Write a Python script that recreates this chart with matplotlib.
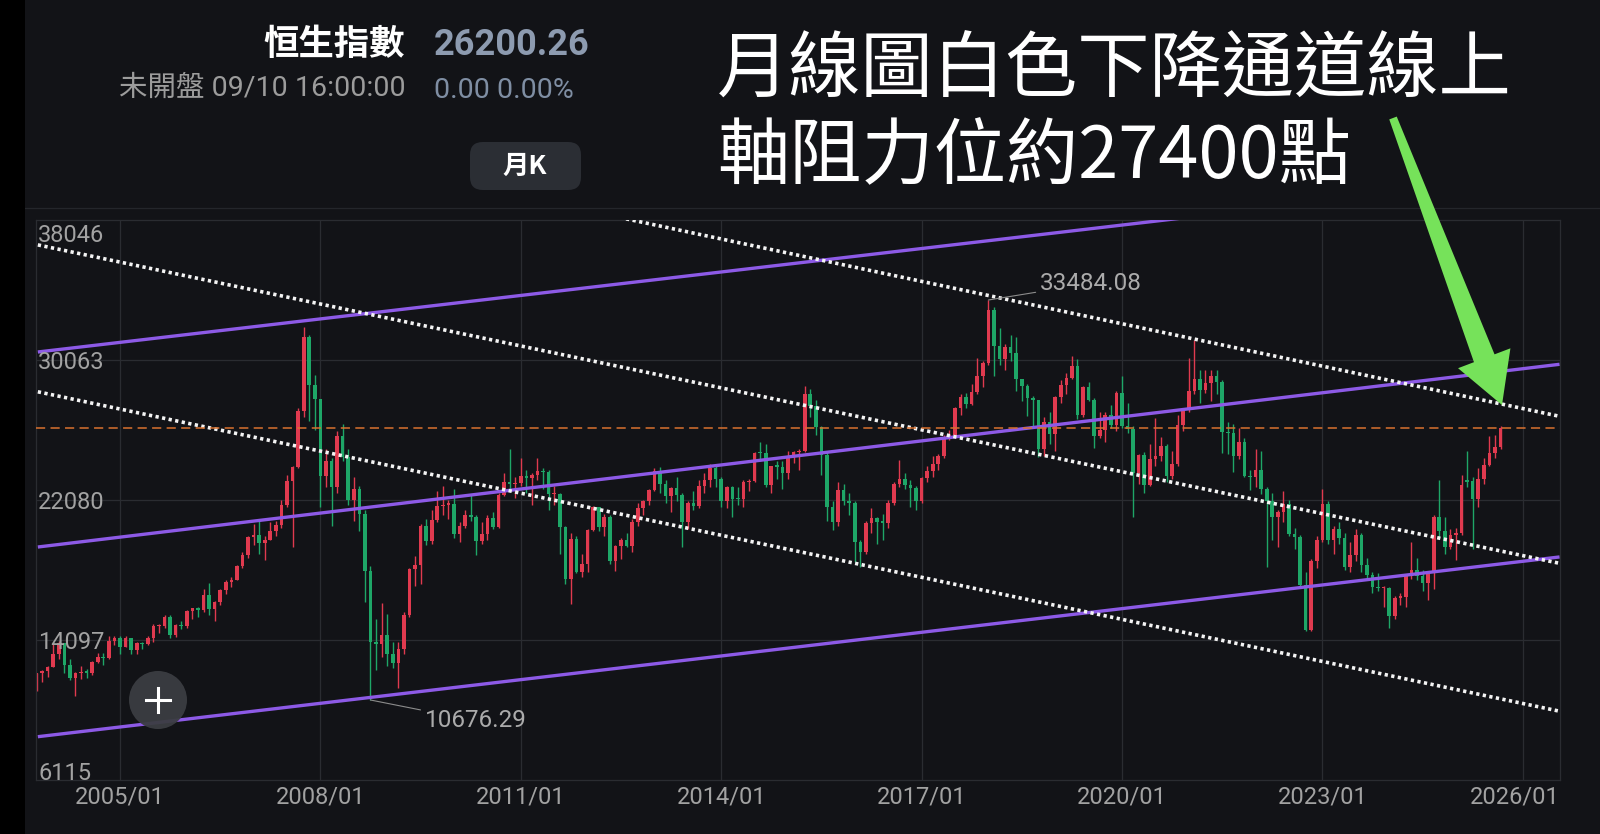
import numpy as np
import matplotlib
matplotlib.use("Agg")
import matplotlib.pyplot as plt
from matplotlib.patches import Rectangle, FancyBboxPatch, Circle, Polygon
from matplotlib.lines import Line2D

plt.rcParams['font.family'] = ['Roboto', 'Noto Sans CJK TC', 'DejaVu Sans']

# Hang Seng Index, monthly bars from 2003/10 to 2025/09
start_year = 2003
start_month = 10
opens = [
    11230, 12190, 12317,
    12576, 13289, 13918, 12682, 11942, 12198, 12286, 12238, 12850, 13120, 13054, 14060,
    14230, 13721, 14195, 13516, 13908, 13867, 14201, 14880, 14903, 15429, 14386, 14937,
    14876, 15753, 15918, 15805, 16661, 15857, 16267, 16971, 17392, 17543, 18324, 18960,
    19965, 20107, 19652, 19801, 20319, 20635, 21773, 23185, 23984, 27143, 31352, 28643,
    27813, 23456, 24332, 22849, 25755, 24533, 22102, 22731, 21262, 18016, 13969, 13888,
    14387, 13278, 12812, 13576, 15521, 18171, 18379, 20573, 19724, 20955, 21753, 21822,
    21873, 20122, 20609, 21239, 21108, 19765, 20129, 21030, 20537, 22358, 23096, 23008,
    23035, 23447, 23338, 23528, 23721, 23684, 22398, 22440, 20535, 17592, 19864, 17989,
    18434, 20390, 21680, 20556, 21094, 18630, 19441, 19797, 19483, 20840, 21642, 22030,
    22657, 23730, 23020, 22300, 22737, 22392, 20803, 21883, 21731, 22860, 23206, 23881,
    23306, 22035, 22837, 22151, 22134, 23082, 23191, 24757, 24742, 22933, 23998, 23987,
    23605, 24507, 24823, 24901, 28133, 27424, 26250, 24636, 21670, 20846, 22640, 21996,
    21914, 19683, 19112, 20777, 21067, 20815, 20794, 21891, 22977, 23297, 22935, 22790,
    22001, 23361, 23741, 24112, 24615, 25661, 25765, 27324, 27970, 27554, 28246, 29177,
    29919, 32887, 30845, 30093, 30808, 30469, 28955, 28583, 27889, 27789, 24980, 26507,
    25846, 27942, 28633, 29051, 29699, 26901, 28543, 27778, 25725, 26092, 26907, 26346,
    28190, 26313, 26130, 23603, 24644, 22961, 24427, 24595, 25177, 23459, 24107, 26341,
    27231, 28284, 28980, 28378, 28725, 29152, 28828, 25961, 25879, 24576, 25377, 23475,
    23398, 23802, 22713, 21997, 21089, 21415, 21860, 20157, 19954, 17223, 14687, 18597,
    19781, 21842, 19786, 20400, 19895, 18234, 18916, 20079, 18382, 17810, 17112, 17043,
    17047, 15485, 16511, 16541, 17763, 18080, 17719, 17345, 17989, 21134, 20317, 19424,
    20060, 20225, 23200, 23150, 22119, 23290, 24072, 24773, 25077,
]
highs = [
    12195, 12400, 12600,
    13928, 14058, 13935, 13000, 12300, 12600, 12450, 12900, 13360, 13350, 14300, 14339,
    14300, 14335, 14200, 14000, 14000, 14300, 15000, 15000, 15500, 15500, 15000, 15200,
    15800, 15950, 16000, 17000, 17328, 16300, 17000, 17500, 17700, 18400, 19100, 20050,
    20700, 20971, 20000, 20800, 20900, 22100, 23500, 24000, 27300, 31958, 31500, 29200,
    27853, 25000, 24500, 26000, 26387, 25000, 23400, 22900, 21500, 18300, 15300, 16200,
    15600, 14000, 14000, 15700, 18200, 18900, 20700, 21000, 21500, 22600, 22900, 22100,
    22700, 20800, 21500, 22400, 21200, 20800, 21200, 21400, 22500, 23600, 24988, 23400,
    24468, 23800, 23600, 24470, 23900, 23800, 22900, 22500, 20600, 20200, 20000, 19000,
    20400, 21760, 21700, 21300, 21200, 19500, 19900, 20200, 21000, 21900, 22100, 22700,
    23900, 23944, 23200, 22800, 23400, 22500, 22000, 22600, 23200, 23600, 24111, 24000,
    23400, 22900, 22900, 22800, 23200, 23300, 24800, 25362, 25300, 24000, 24300, 24300,
    24900, 24900, 25000, 28588, 28400, 27800, 26300, 24900, 22000, 23100, 23000, 22500,
    22000, 19800, 20900, 21600, 21100, 21300, 22100, 23100, 24364, 23600, 23200, 22900,
    23400, 24000, 24600, 24700, 25800, 26100, 27400, 28100, 28200, 28700, 30200, 30000,
    33484, 33100, 31900, 31000, 31500, 31400, 29000, 28700, 28000, 27800, 26800, 27100,
    28000, 28900, 29300, 30280, 30100, 28600, 28800, 27900, 27100, 27100, 27500, 28300,
    29175, 27600, 26300, 24700, 24800, 25300, 26782, 25700, 25300, 24900, 26900, 27300,
    30191, 31183, 29500, 29500, 29500, 29500, 28900, 26500, 26400, 26200, 25600, 23800,
    25000, 24900, 22800, 22500, 21500, 22600, 22100, 20500, 20100, 18000, 18700, 20000,
    22700, 22000, 20600, 20800, 20200, 19700, 20400, 20200, 18800, 18000, 17900, 17200,
    17100, 16600, 16800, 17800, 19706, 18800, 18100, 18000, 21200, 23241, 21100, 20400,
    20500, 23500, 24874, 23400, 23900, 24500, 25735, 25800, 26300,
]
lows = [
    11200, 11700, 12000,
    12550, 13000, 12240, 11800, 10917, 11900, 11930, 12100, 12800, 12700, 13000, 13800,
    13320, 13700, 13300, 13300, 13600, 13800, 14000, 14500, 14800, 14190, 14250, 14700,
    14800, 15300, 15400, 15700, 15500, 15205, 16100, 16700, 17100, 17500, 18200, 18800,
    19500, 19000, 18659, 19800, 20000, 20500, 21700, 19386, 23900, 26800, 26600, 26100,
    21709, 22800, 20572, 22500, 24300, 21800, 20891, 20300, 16283, 10676, 12400, 13100,
    12600, 12500, 11345, 13300, 15400, 17200, 17300, 19500, 19600, 20800, 21200, 21000,
    19900, 19700, 20500, 20900, 18971, 19600, 19800, 20400, 20500, 22300, 22700, 22200,
    22900, 22500, 21800, 23200, 22700, 21500, 21800, 19000, 17300, 16170, 17900, 17700,
    18000, 20300, 20300, 20050, 18450, 18056, 18700, 19400, 19100, 20600, 21200, 21800,
    22600, 22500, 21900, 21400, 22000, 19426, 20400, 21500, 21600, 22500, 22800, 22800,
    21700, 21600, 21137, 21800, 21700, 22600, 23100, 24300, 22800, 22500, 23300, 22700,
    23300, 24200, 23800, 24800, 26800, 25800, 23500, 20865, 20368, 20600, 21800, 21200,
    18534, 18279, 19000, 20200, 19594, 19800, 20500, 21800, 22800, 22700, 21700, 21488,
    21900, 23100, 23400, 23800, 24500, 25500, 25600, 26900, 27300, 27500, 28100, 28500,
    29800, 29129, 29800, 29500, 30000, 28300, 27700, 26870, 26200, 24540, 24600, 25300,
    24900, 27600, 28100, 29000, 26700, 26800, 27700, 25064, 25600, 25400, 26200, 26000,
    26200, 25900, 21139, 23000, 22500, 22900, 24000, 24300, 23100, 23300, 24000, 26000,
    27100, 28100, 27600, 28200, 27700, 28100, 24748, 24700, 23700, 24400, 23400, 22665,
    22800, 22400, 18235, 19800, 19400, 20800, 20000, 19300, 17100, 14597, 14600, 18200,
    19700, 19600, 19000, 19600, 18100, 18000, 18600, 18000, 17600, 16800, 16900, 16000,
    14794, 15300, 16100, 16000, 17600, 17500, 16900, 16400, 17000, 19900, 19000, 19300,
    18671, 20100, 22800, 19260, 21700, 23000, 24000, 24500, 25000,
]
closes = [
    12190, 12317, 12576,
    13289, 13918, 12682, 11942, 12198, 12286, 12238, 12850, 13120, 13054, 14060, 14230,
    13721, 14195, 13516, 13908, 13867, 14201, 14880, 14903, 15429, 14386, 14937, 14876,
    15753, 15918, 15805, 16661, 15857, 16267, 16971, 17392, 17543, 18324, 18960, 19965,
    20107, 19652, 19801, 20319, 20635, 21773, 23185, 23984, 27143, 31352, 28643, 27813,
    23456, 24332, 22849, 25755, 24533, 22102, 22731, 21262, 18016, 13969, 13888, 14387,
    13278, 12812, 13576, 15521, 18171, 18379, 20573, 19724, 20955, 21753, 21822, 21873,
    20122, 20609, 21239, 21108, 19765, 20129, 21030, 20537, 22358, 23096, 23008, 23035,
    23447, 23338, 23528, 23721, 23684, 22398, 22440, 20535, 17592, 19864, 17989, 18434,
    20390, 21680, 20556, 21094, 18630, 19441, 19797, 19483, 20840, 21642, 22030, 22657,
    23730, 23020, 22300, 22737, 22392, 20803, 21883, 21731, 22860, 23206, 23881, 23306,
    22035, 22837, 22151, 22134, 23082, 23191, 24757, 24742, 22933, 23998, 23987, 23605,
    24507, 24823, 24901, 28133, 27424, 26250, 24636, 21670, 20846, 22640, 21996, 21914,
    19683, 19112, 20777, 21067, 20815, 20794, 21891, 22977, 23297, 22935, 22790, 22001,
    23361, 23741, 24112, 24615, 25661, 25765, 27324, 27970, 27554, 28246, 29177, 29919,
    32887, 30845, 30093, 30808, 30469, 28955, 28583, 27889, 27789, 24980, 26507, 25846,
    27942, 28633, 29051, 29699, 26901, 28543, 27778, 25725, 26092, 26907, 26346, 28190,
    26313, 26130, 23603, 24644, 22961, 24427, 24595, 25177, 23459, 24107, 26341, 27231,
    28284, 28980, 28378, 28725, 29152, 28828, 25961, 25879, 24576, 25377, 23475, 23398,
    23802, 22713, 21997, 21089, 21415, 21860, 20157, 19954, 17223, 14687, 18597, 19781,
    21842, 19786, 20400, 19895, 18234, 18916, 20079, 18382, 17810, 17112, 17043, 17047,
    15485, 16511, 16541, 17763, 18080, 17719, 17345, 17989, 21134, 20317, 19424, 20060,
    20225, 22941, 23120, 22119, 23290, 24072, 24773, 25077, 26200,
]

y_ticks = [6115, 14097, 22080, 30063, 38046]
x_tick_years = [2005, 2008, 2011, 2014, 2017, 2020, 2023, 2026]
x_tick_labels = ['2005/01', '2008/01', '2011/01', '2014/01', '2017/01', '2020/01', '2023/01', '2026/01']
last_price = 26200.26

# hand drawn channel lines: (year, value) at both ends
purple_lines = [
    [(2003.77, 30520), (2026.55, 40678)],
    [(2003.77, 19400), (2026.55, 29818)],
    [(2003.77, 8584), (2026.55, 18833)],
]
dotted_lines = [
    [(2003.77, 45208), (2026.55, 26853)],
    [(2003.77, 36627), (2026.55, 18471)],
    [(2003.77, 28251), (2026.55, 10038)],
]
peak = (2018.0, 33484.08)
trough = (2008.75, 10676.29)

BG = '#121317'
RED = '#e03a4f'
GREEN = '#1ea667'
GRID = '#2a2c31'
TICK = '#a2a2a2'

W, H = 1600, 834
fig = plt.figure(figsize=(W / 100, H / 100), dpi=100)
fig.patch.set_facecolor(BG)

def fx(px):
    return px / W

def fy(py):
    return 1 - py / H

ax = fig.add_axes([fx(36), fy(780), fx(1560) - fx(36), fy(220) - fy(780)])
ax.set_facecolor(BG)
ax.set_xlim(2003.7425, 2026.557)
ax.set_ylim(y_ticks[0], y_ticks[-1])
ax.set_xticks([])
ax.set_yticks([])
for s in ax.spines.values():
    s.set_color(GRID)
    s.set_linewidth(0.9)

for v in y_ticks[1:-1]:
    ax.axhline(v, color=GRID, lw=0.9, zorder=0)
for yr in x_tick_years:
    ax.axvline(yr, color=GRID, lw=0.9, zorder=0)

# candles
o = np.array(opens, float)
h = np.array(highs, float)
l = np.array(lows, float)
c = np.array(closes, float)
t = start_year + (start_month - 1) / 12 + np.arange(len(c)) / 12
cols = np.where(c >= o, RED, GREEN)
ax.vlines(t, l, h, colors=cols, lw=1.0, zorder=2)
body_lo = np.minimum(o, c)
body_h = np.maximum(np.abs(c - o), 70)
ax.bar(t, body_h, bottom=body_lo, width=0.054, color=cols, linewidth=0, zorder=2)

# channel lines
for (x0, y0), (x1, y1) in purple_lines:
    ax.plot([x0, x1], [y0, y1], color='#8d5ae6', lw=2.4, zorder=3, solid_capstyle='butt')
for (x0, y0), (x1, y1) in dotted_lines:
    ax.plot([x0, x1], [y0, y1], color='#f4f4f4', lw=2.6, ls=(0, (0.9, 0.95)), zorder=3)
ax.axhline(last_price, color='#d9722f', lw=1.1, ls=(0, (6, 3.5)), zorder=3)

# axis labels drawn inside the frame like the app
for i, v in enumerate(y_ticks):
    va = 'top' if i == len(y_ticks) - 1 else ('bottom' if i == 0 else 'center')
    off = -200 if va == 'top' else (-260 if va == 'bottom' else -150)
    ax.text(2003.775, v + off, str(v), color=TICK, fontsize=17, va=va, ha='left',
            family='Roboto', zorder=4)
for yr, lab in zip(x_tick_years, x_tick_labels):
    if yr == x_tick_years[-1]:
        ax.text(1.0, -0.031, lab, transform=ax.transAxes, color=TICK, fontsize=17,
                ha='right', va='center', family='Roboto')
    else:
        ax.text(yr, -0.031, lab, transform=ax.get_xaxis_transform(), color=TICK,
                fontsize=17, ha='center', va='center', family='Roboto')

ax.annotate(f'{peak[1]:.2f}', xy=peak, xytext=(37, 12), textcoords='offset points',
            color='#ababab', fontsize=17.5, family='Roboto', ha='left', va='center',
            arrowprops=dict(arrowstyle='-', color='#8c8c8c', lw=0.8, shrinkA=1, shrinkB=0),
            zorder=5)
ax.annotate(f'{trough[1]:.2f}', xy=trough, xytext=(39, -15), textcoords='offset points',
            color='#ababab', fontsize=17.5, family='Roboto', ha='left', va='center',
            arrowprops=dict(arrowstyle='-', color='#8c8c8c', lw=0.8, shrinkA=1, shrinkB=0),
            zorder=5)

# left black strip and header separator
fig.patches.append(Rectangle((0, 0), fx(25), 1, transform=fig.transFigure,
                             facecolor='black', edgecolor='none', zorder=10))
fig.lines.append(Line2D([fx(25), 1], [fy(208), fy(208)], transform=fig.transFigure,
                        color='#24262b', lw=0.9))

# header
fig.text(fx(263), fy(45), '恒生指數', color='white', fontsize=25.5, weight='bold',
         family=['Noto Sans CJK TC'], va='center', ha='left')
fig.text(fx(434), fy(45), '26200.26', color='#8d9bb0', fontsize=26, weight='bold',
         family=['Roboto'], va='center', ha='left')
fig.text(fx(119), fy(88), '未開盤 09/10 16:00:00', color='#9c9c9c', fontsize=20.5,
         family=['Roboto', 'Noto Sans CJK TC'], va='center', ha='left')
fig.text(fx(434), fy(90), '0.00 0.00%', color='#7f8ea3', fontsize=20.5,
         family=['Roboto'], va='center', ha='left')
btn = FancyBboxPatch((fx(470), fy(190)), fx(111), fy(142) - fy(190),
                     boxstyle='round,pad=0,rounding_size=0.008', transform=fig.transFigure,
                     facecolor='#2b2e34', edgecolor='none', mutation_aspect=W / H)
fig.patches.append(btn)
fig.text(fx(525), fy(166), '月K', color='white', fontsize=19, weight='bold',
         family=['Noto Sans CJK TC', 'Roboto'], va='center', ha='center')

# plus button
cx, cy, r = 158, 700, 29
fig.patches.append(Circle((cx / 100, (H - cy) / 100), r / 100, transform=fig.dpi_scale_trans,
                          facecolor='#3b3d42', edgecolor='none', alpha=0.95, zorder=6))
fig.lines.append(Line2D([fx(cx - 12), fx(cx + 12)], [fy(cy), fy(cy)], transform=fig.transFigure,
                        color='white', lw=2.2, zorder=7))
fig.lines.append(Line2D([fx(cx), fx(cx)], [fy(cy - 12), fy(cy + 12)], transform=fig.transFigure,
                        color='white', lw=2.2, zorder=7))

# big note
fig.text(fx(717), fy(71), '月線圖白色下降通道線上', color='white', fontsize=52,
         weight='medium', family=['Noto Sans CJK TC'], va='center', ha='left')
fig.text(fx(717), fy(158), '軸阻力位約27400點', color='white', fontsize=52,
         weight='medium', family=['Noto Sans CJK TC'], va='center', ha='left')

# green arrow (pixel geometry)
tail = np.array([1393.0, 118.0])
tip = np.array([1502.0, 405.0])
d = (tip - tail) / np.linalg.norm(tip - tail)
n = np.array([d[1], -d[0]])
base = tip - d * 50
pts = [tail + n * 4, base + n * 11, base + n * 28, tip, base - n * 28, base - n * 11, tail - n * 4]
pts = [(fx(p[0]), fy(p[1])) for p in pts]
fig.patches.append(Polygon(pts, closed=True, transform=fig.transFigure,
                           facecolor='#76e25a', edgecolor='none', zorder=8))

fig.savefig('out.png', dpi=100, facecolor=BG)
